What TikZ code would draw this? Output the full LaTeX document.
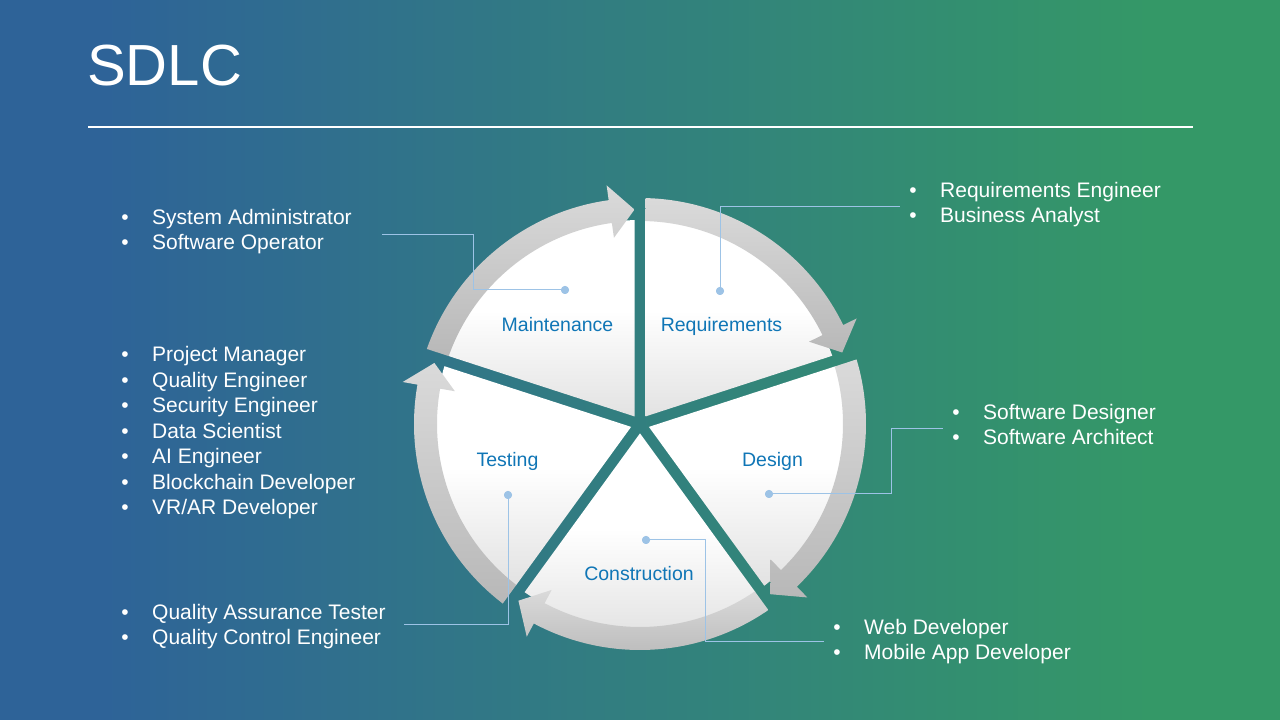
\documentclass[tikz,border=0pt]{standalone}
\usepackage{fontspec}
\setmainfont{Liberation Sans}
\usetikzlibrary{calc}

\definecolor{bgL}{RGB}{46,99,152}
\definecolor{bgM}{RGB}{50,126,128}
\definecolor{bgR}{RGB}{52,152,103}
\definecolor{phase}{RGB}{16,118,182}
\definecolor{leader}{RGB}{157,195,230}
\definecolor{ringTop}{RGB}{218,218,218}
\definecolor{ringBot}{RGB}{184,184,184}
\definecolor{faceBot}{RGB}{226,226,226}

% TikZ maps the 25bp..75bp band of a shading onto the path's bounding box
\pgfdeclarehorizontalshading{bgshade}{100bp}{color(0bp)=(bgL); color(29bp)=(bgL); color(49bp)=(bgM); color(70bp)=(bgR); color(100bp)=(bgR)}
\pgfdeclareverticalshading{faceshade}{100bp}{color(0bp)=(faceBot); color(25bp)=(faceBot); color(52bp)=(white); color(100bp)=(white)}
\pgfdeclareverticalshading{ringshade}{100bp}{color(0bp)=(ringBot); color(25bp)=(ringBot); color(75bp)=(ringTop); color(100bp)=(ringTop)}

\tikzset{
  phaselabel/.style={anchor=base, inner sep=0pt, text=phase, font=\fontsize{19.5}{23}\selectfont},
  role/.style={anchor=base west, inner sep=0pt, text=white, font=\fontsize{21}{25}\selectfont,
    execute at begin node={\llap{\textbullet\hspace{23.4pt}}}},
  leaderline/.style={draw=leader, line width=1pt},
  leaderdot/.style={circle, fill=leader, inner sep=0pt, minimum size=8pt},
}

% cycle geometry (1pt per unit)
\def\gap{5.5}   % half width of the gaps between phases
\def\Rw{204}    % radius of the white faces
\def\Ri{203}    % inner radius of the ring arrows
\def\Ro{226}    % outer radius of the ring arrows
\def\Rm{214.5}  % radius of the arrow tips
\def\Rhi{188}   % inner barb radius
\def\Rho{241}   % outer barb radius
\def\headlen{6.5}

\begin{document}
\begin{tikzpicture}[x=1pt, y=1pt]
  % background
  \shade[shading=bgshade] (0,0) rectangle (1280,720);
  \useasboundingbox (0,0) rectangle (1280,720);

  % title and rule
  \node[anchor=base west, inner sep=0pt, text=white, font=\fontsize{58}{64}\selectfont] (title) at (87,634) {SDLC};
  \draw[white, line width=1.3pt] (88,593) -- (1193,593);

  % the five phases, clockwise from the top
  \begin{scope}[shift={(640,296)}]
    \foreach \k in {0,...,4}{
      \pgfmathsetmacro\ts{90-72*\k}
      \pgfmathsetmacro\te{\ts-72}
      \pgfmathsetmacro\tm{\ts-36}
      \pgfmathsetmacro\dd{\gap/sin(36)}
      \pgfmathsetmacro\fa{\ts-asin(\gap/\Rw)}
      \pgfmathsetmacro\fb{\te+asin(\gap/\Rw)}
      \pgfmathsetmacro\so{\ts-asin(\gap/\Ro)}
      \pgfmathsetmacro\si{\ts-asin(\gap/\Ri)}
      \pgfmathsetmacro\tt{\te+asin(\gap/\Rm)}
      \pgfmathsetmacro\bb{\tt+\headlen}
      % white face
      \shade[shading=faceshade] (\tm:\dd) -- (\fa:\Rw)
        arc[start angle=\fa, end angle=\fb, radius=\Rw] -- cycle;
      % curved arrow along the rim
      \shade[shading=ringshade] (\so:\Ro)
        arc[start angle=\so, end angle=\bb, radius=\Ro]
        -- (\bb:\Rho) -- (\tt:\Rm) -- (\bb:\Rhi) -- (\bb:\Ri)
        arc[start angle=\bb, end angle=\si, radius=\Ri] -- cycle;
    }
  \end{scope}

  % phase names
  \node[phaselabel] (labReq) at (721.5,388.5) {Requirements};
  \node[phaselabel] (labDes) at (772.5,253.5) {Design};
  \node[phaselabel] (labCon) at (639,139.5) {Construction};
  \node[phaselabel] (labTes) at (507.5,253.5) {Testing};
  \node[phaselabel] (labMai) at (557.5,388.5) {Maintenance};

  % leader lines
  \node[leaderdot] (dR) at (720,429) {};
  \node[leaderdot] (dD) at (769,226) {};
  \node[leaderdot] (dC) at (646,180) {};
  \node[leaderdot] (dT) at (508,225) {};
  \node[leaderdot] (dM) at (565,430) {};
  \coordinate (eR) at (900,513);
  \coordinate (eD) at (943,291);
  \coordinate (eC) at (824,78);
  \coordinate (eT) at (404,95);
  \coordinate (eM) at (382,485);
  \draw[leaderline] (dR.center) |- (eR);
  \draw[leaderline] (dD.center) -- ++(122,0) |- (eD);
  \draw[leaderline] (dC.center) -- ++(59,0) |- (eC);
  \draw[leaderline] (dT.center) |- (eT);
  \draw[leaderline] (dM.center) -- ++(-92,0) |- (eM);
  \foreach \d in {dR,dD,dC,dT,dM} \fill[leader] (\d) circle[radius=4];

  % roles
  \foreach \txt [count=\i] in {System Administrator, Software Operator}
    \node[role] (rM\i) at (152,{495-25*(\i-1)}) {\txt};
  \foreach \txt [count=\i] in {Requirements Engineer, Business Analyst}
    \node[role] (rR\i) at (940,{522-25*(\i-1)}) {\txt};
  \foreach \txt [count=\i] in {Project Manager, Quality Engineer, Security Engineer, Data Scientist, AI Engineer, Blockchain Developer, VR/AR Developer}
    \node[role] (rP\i) at (152,{358-25.5*(\i-1)}) {\txt};
  \foreach \txt [count=\i] in {Software Designer, Software Architect}
    \node[role] (rD\i) at (983,{300-25*(\i-1)}) {\txt};
  \foreach \txt [count=\i] in {Quality Assurance Tester, Quality Control Engineer}
    \node[role] (rT\i) at (152,{100-25*(\i-1)}) {\txt};
  \foreach \txt [count=\i] in {Web Developer, Mobile App Developer}
    \node[role] (rC\i) at (864,{85-25*(\i-1)}) {\txt};
\end{tikzpicture}
\end{document}
